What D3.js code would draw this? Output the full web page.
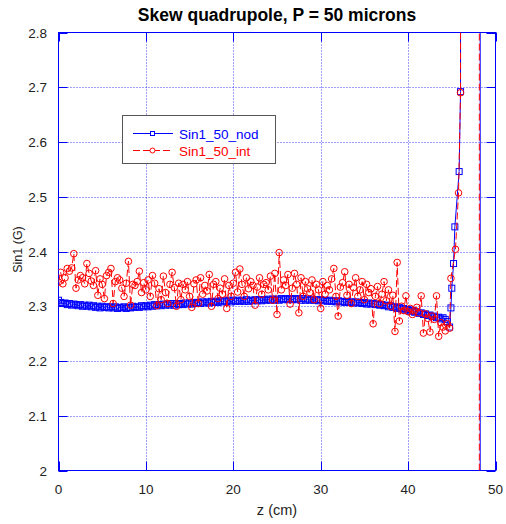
<!DOCTYPE html>
<html><head><meta charset="utf-8">
<script src="https://cdn.jsdelivr.net/npm/d3@7"></script>
<style>body{margin:0;background:#fff}svg{display:block}text{font-family:Arial,"Liberation Sans",sans-serif}</style>
</head><body><svg id="c" width="506" height="524"></svg>
<script>
const title = "Skew quadrupole, P = 50 microns";
const xLabel = "z (cm)";
const yLabel = "Sin1 (G)";
const seriesNames = ["Sin1_50_nod", "Sin1_50_int"];
const xTicks = [0, 10, 20, 30, 40, 50];
const yTicks = [2, 2.1, 2.2, 2.3, 2.4, 2.5, 2.6, 2.7, 2.8];

const zGrid = [
 0,0.25,0.5,0.75,1,1.25,1.5,1.75,2,2.25,2.5,2.75,3,3.25,3.5,3.75,4,4.25,4.5,4.75,
 5,5.25,5.5,5.75,6,6.25,6.5,6.75,7,7.25,7.5,7.75,8,8.25,8.5,8.75,9,9.25,9.5,9.75,
 10,10.25,10.5,10.75,11,11.25,11.5,11.75,12,12.25,12.5,12.75,13,13.25,13.5,13.75,14,14.25,14.5,14.75,
 15,15.25,15.5,15.75,16,16.25,16.5,16.75,17,17.25,17.5,17.75,18,18.25,18.5,18.75,19,19.25,19.5,19.75,
 20,20.25,20.5,20.75,21,21.25,21.5,21.75,22,22.25,22.5,22.75,23,23.25,23.5,23.75,24,24.25,24.5,24.75,
 25,25.25,25.5,25.75,26,26.25,26.5,26.75,27,27.25,27.5,27.75,28,28.25,28.5,28.75,29,29.25,29.5,29.75,
 30,30.25,30.5,30.75,31,31.25,31.5,31.75,32,32.25,32.5,32.75,33,33.25,33.5,33.75,34,34.25,34.5,34.75,
 35,35.25,35.5,35.75,36,36.25,36.5,36.75,37,37.25,37.5,37.75,38,38.25,38.5,38.75,39,39.25,39.5,39.75,
 40,40.25,40.5,40.75,41,41.25,41.5,41.75,42,42.25,42.5,42.75,43,43.25,43.5,43.75,44,44.25
];
const nodGrid = [
 2.311,2.307,2.305,2.306, 2.303,2.305,2.302,2.304, 2.303,2.301,2.303,2.300, 2.302,2.300,2.302,2.299, 2.301,2.298,2.300,2.297,
 2.300,2.298,2.299,2.297, 2.299,2.297,2.299,2.296, 2.298,2.297,2.299,2.296, 2.298,2.297,2.300,2.298, 2.299,2.298,2.301,2.299,
 2.301,2.299,2.302,2.300, 2.303,2.301,2.303,2.301, 2.304,2.302,2.304,2.302, 2.305,2.302,2.305,2.303, 2.305,2.303,2.306,2.304,
 2.306,2.304,2.307,2.305, 2.307,2.305,2.308,2.306, 2.308,2.306,2.309,2.307, 2.309,2.307,2.310,2.308, 2.310,2.308,2.311,2.308,
 2.311,2.309,2.311,2.309, 2.311,2.309,2.312,2.309, 2.311,2.310,2.312,2.310, 2.312,2.310,2.312,2.311, 2.313,2.311,2.313,2.311,
 2.313,2.311,2.314,2.312, 2.314,2.312,2.314,2.312, 2.314,2.312,2.314,2.311, 2.314,2.311,2.313,2.311, 2.313,2.311,2.312,2.310,
 2.312,2.310,2.311,2.309, 2.311,2.309,2.310,2.308, 2.310,2.308,2.309,2.307, 2.309,2.307,2.308,2.306, 2.308,2.306,2.307,2.305,
 2.307,2.304,2.306,2.304, 2.305,2.303,2.304,2.302, 2.303,2.301,2.302,2.299, 2.301,2.298,2.299,2.296, 2.298,2.295,2.296,2.293,
 2.294,2.291,2.292,2.289, 2.290,2.287,2.288,2.285, 2.286,2.283,2.284,2.281, 2.282,2.279,2.280,2.277, 2.279,2.276
];
const intGrid = [
 2.344,2.362,2.341,2.352, 2.369,2.364,2.370,2.396, 2.333,2.348,2.356,2.352, 2.341,2.378,2.360,2.346, 2.338,2.365,2.320,2.350,
 2.340,2.314,2.356,2.362, 2.369,2.305,2.345,2.352, 2.348,2.333,2.318,2.342, 2.382,2.302,2.340,2.338, 2.345,2.364,2.325,2.343,
 2.330,2.348,2.318,2.356, 2.342,2.301,2.332,2.312, 2.355,2.325,2.305,2.340, 2.362,2.334,2.300,2.342, 2.312,2.340,2.330,2.345,
 2.318,2.298,2.341,2.348, 2.305,2.352,2.322,2.338, 2.328,2.358,2.300,2.340, 2.345,2.314,2.333,2.322, 2.350,2.296,2.338,2.318,
 2.342,2.362,2.326,2.368, 2.340,2.318,2.352,2.332, 2.345,2.338,2.302,2.335, 2.352,2.322,2.340,2.343, 2.330,2.355,2.311,2.360,
 2.285,2.398,2.330,2.348, 2.338,2.358,2.304,2.333, 2.360,2.340,2.288,2.352, 2.318,2.345,2.332,2.325, 2.348,2.312,2.340,2.330,
 2.296,2.345,2.322,2.338, 2.330,2.350,2.369,2.318, 2.282,2.335,2.343,2.363, 2.320,2.340,2.305,2.334, 2.352,2.318,2.330,2.345,
 2.312,2.340,2.325,2.332, 2.268,2.318,2.336,2.305, 2.322,2.345,2.310,2.330, 2.300,2.320,2.254,2.380, 2.273,2.300,2.292,2.319,
 2.290,2.296,2.285,2.292, 2.298,2.288,2.319,2.251, 2.286,2.278,2.253,2.282, 2.276,2.319,2.245,2.270, 2.262,2.255
];
// end of the scan: the signal rises steeply and leaves the plot
const zNodTail = [44.5, 44.75, 44.9, 45.0, 45.2, 45.35, 45.84, 46.0, 46.1, 48.25, 48.25];
const nodTail  = [2.272, 2.262, 2.297, 2.333, 2.378, 2.445, 2.546, 2.692, 30, 30, -30];
const zIntTail = [44.5, 44.75, 44.9, 45.42, 45.77, 46.0, 46.1, 48.15, 48.15];
const intTail  = [2.268, 2.260, 2.351, 2.404, 2.507, 2.69, 30, 30, -30];

const nodV = nodGrid.concat(nodTail), intV = intGrid.concat(intTail);
const nod = zGrid.concat(zNodTail).map((z, i) => ({z, v: nodV[i]}));
const int = zGrid.concat(zIntTail).map((z, i) => ({z, v: intV[i]}));

const svg = d3.select("#c");
const L = 58.5, R = 495.5, T = 32.5, B = 470.5;
const x = d3.scaleLinear().domain([0, 50]).range([L, R]);
const y = d3.scaleLinear().domain([2, 2.8]).range([B, T]);
const blue = "#0000ff", red = "#ff0000";

svg.append("defs").append("clipPath").attr("id", "clip")
  .append("rect").attr("x", L).attr("y", T).attr("width", R - L).attr("height", B - T);

// grid (dotted)
const g = svg.append("g");
g.selectAll(".gx").data(xTicks.slice(1, -1)).join("line")
  .attr("x1", d => Math.round(x(d)) + 0.5).attr("x2", d => Math.round(x(d)) + 0.5)
  .attr("y1", T).attr("y2", B).attr("stroke", blue).attr("stroke-opacity", 0.75)
  .attr("stroke-dasharray", "1,2").attr("stroke-width", 1);
g.selectAll(".gy").data(yTicks.slice(1, -1)).join("line")
  .attr("y1", d => Math.round(y(d)) + 0.5).attr("y2", d => Math.round(y(d)) + 0.5)
  .attr("x1", L).attr("x2", R).attr("stroke", blue).attr("stroke-opacity", 0.75)
  .attr("stroke-dasharray", "1,2").attr("stroke-width", 1);

// inward ticks
const tk = 9;
xTicks.forEach(d => {
  const xx = Math.round(x(d)) + 0.5;
  g.append("line").attr("x1", xx).attr("x2", xx).attr("y1", B).attr("y2", B - tk).attr("stroke", blue);
  g.append("line").attr("x1", xx).attr("x2", xx).attr("y1", T).attr("y2", T + tk).attr("stroke", blue);
});
yTicks.forEach(d => {
  const yy = Math.round(y(d)) + 0.5;
  g.append("line").attr("y1", yy).attr("y2", yy).attr("x1", L).attr("x2", L + tk).attr("stroke", blue);
  g.append("line").attr("y1", yy).attr("y2", yy).attr("x1", R).attr("x2", R - tk).attr("stroke", blue);
});

// frame
svg.append("rect").attr("x", L).attr("y", T).attr("width", R - L).attr("height", B - T)
  .attr("fill", "none").attr("stroke", blue).attr("stroke-width", 1);

// tick labels
svg.selectAll(".xl").data(xTicks).join("text")
  .attr("x", d => x(d)).attr("y", 494).attr("text-anchor", "middle")
  .attr("font-size", 13.5).attr("fill", "#222").text(d => d);
svg.selectAll(".yl").data(yTicks).join("text")
  .attr("x", 47).attr("y", d => y(d) + 5).attr("text-anchor", "end")
  .attr("font-size", 13.5).attr("fill", "#222").text(d => d);

// titles
svg.append("text").attr("x", (L + R) / 2).attr("y", 21).attr("text-anchor", "middle")
  .attr("font-size", 17.5).attr("font-weight", "bold").attr("fill", "#000").text(title);
svg.append("text").attr("x", (L + R) / 2).attr("y", 515).attr("text-anchor", "middle")
  .attr("font-size", 14.5).attr("fill", "#222").text(xLabel);
svg.append("text").attr("transform", `translate(22,${(T + B) / 2 - 2}) rotate(-90)`).attr("text-anchor", "middle")
  .attr("font-size", 12.5).attr("fill", "#222").text(yLabel);

// data
const line = d3.line().x(d => x(d.z)).y(d => y(d.v));
const plot = svg.append("g").attr("clip-path", "url(#clip)");
plot.append("path").datum(nod).attr("d", line).attr("fill", "none").attr("stroke", blue).attr("stroke-width", 1);
plot.selectAll(".sq").data(nod).join("rect")
  .attr("x", d => x(d.z) - 3).attr("y", d => y(d.v) - 3).attr("width", 6).attr("height", 6)
  .attr("fill", "none").attr("stroke", blue).attr("stroke-width", 1);
plot.append("path").datum(int).attr("d", line).attr("fill", "none").attr("stroke", red)
  .attr("stroke-width", 1).attr("stroke-dasharray", "7,3");
plot.selectAll(".ci").data(int).join("circle")
  .attr("cx", d => x(d.z)).attr("cy", d => y(d.v)).attr("r", 3.3)
  .attr("fill", "none").attr("stroke", red).attr("stroke-width", 1);

// legend
const lg = svg.append("g");
lg.append("rect").attr("x", 122.5).attr("y", 115.5).attr("width", 153).attr("height", 48)
  .attr("fill", "#fff").attr("stroke", "#555").attr("stroke-width", 1);
lg.append("line").attr("x1", 133).attr("x2", 173).attr("y1", 133.5).attr("y2", 133.5).attr("stroke", blue);
lg.append("rect").attr("x", 150.5).attr("y", 131.5).attr("width", 4).attr("height", 4).attr("fill", "#fff").attr("stroke", blue);
lg.append("text").attr("x", 179).attr("y", 138.5).attr("font-size", 13.5).attr("fill", blue).text(seriesNames[0]);
lg.append("line").attr("x1", 133).attr("x2", 173).attr("y1", 150.5).attr("y2", 150.5).attr("stroke", red).attr("stroke-dasharray", "7,3");
lg.append("circle").attr("cx", 152.5).attr("cy", 150.5).attr("r", 2.5).attr("fill", "#fff").attr("stroke", red);
lg.append("text").attr("x", 179).attr("y", 155.5).attr("font-size", 13.5).attr("fill", red).text(seriesNames[1]);
</script></body></html>
